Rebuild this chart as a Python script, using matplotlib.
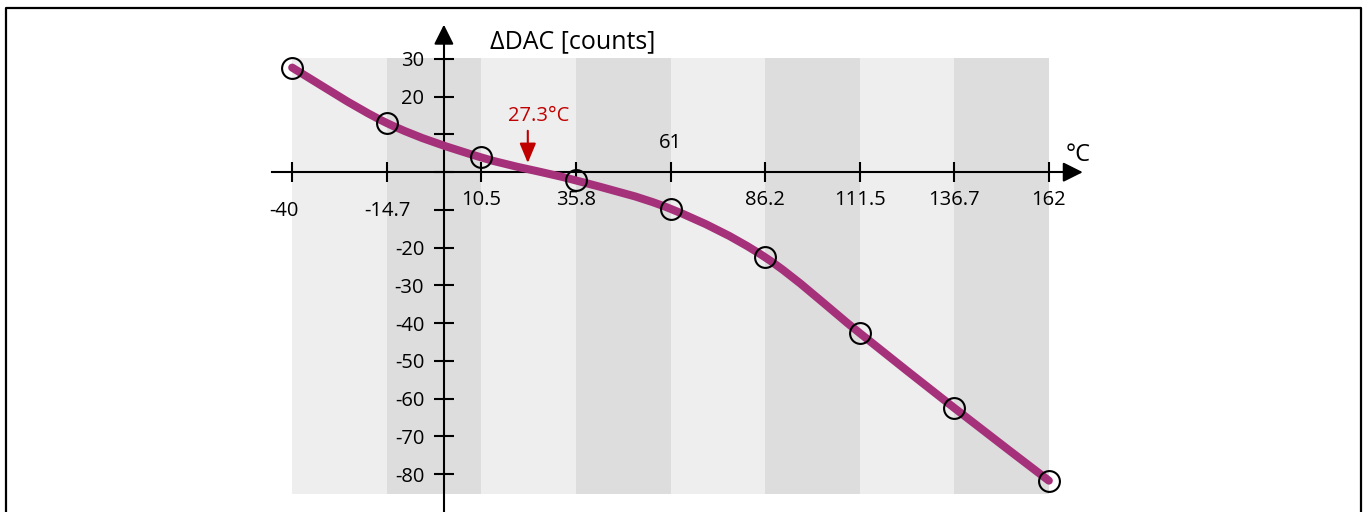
import matplotlib
matplotlib.use('Agg')
import matplotlib.pyplot as plt
from matplotlib.path import Path
from matplotlib.patches import PathPatch
from matplotlib.lines import Line2D

# 字體
plt.rcParams['font.family'] = ['Open Sans', 'DejaVu Sans']

# 資料
temps = [-40, -14.7, 10.5, 35.8, 61, 86.2, 111.5, 136.7, 162]
dac = [27.7, 13.0, 3.9, -2.2, -9.7, -22.5, -42.6, -62.4, -81.7]
x_labels = ['-40', '-14.7', '10.5', '35.8', '61', '86.2', '111.5', '136.7', '162']
y_ticks = [30, 20, 10, 0, -10, -20, -30, -40, -50, -60, -70, -80]
y_labels = ['30', '20', '', '', '', '-20', '-30', '-40', '-50', '-60', '-70', '-80']
zero_temp = '27.3°C'

line_color = '#a6317b'
red = '#c00000'
light = '#eeeeee'
dark = '#dddddd'
fs = 14.5

fig = plt.figure(figsize=(13.68, 5.12), dpi=100)
ax = fig.add_axes([0, 0, 1, 1])
ax.set_xlim(-118.0, 247.2)
ax.set_ylim(-90.0, 45.6)
ax.patch.set_alpha(0)

# 背景條紋
for i in range(len(temps) - 1):
    ax.fill_between([temps[i], temps[i + 1]], -85.2, 30.3,
                    color=light if i % 2 == 0 else dark, lw=0, zorder=0)

# 座標軸
for s in ['top', 'right']:
    ax.spines[s].set_visible(False)
ax.spines['left'].set_position(('data', 0.5))
ax.spines['bottom'].set_position(('data', 0))
ax.spines['left'].set_bounds(-95, 36)
ax.spines['bottom'].set_bounds(-45.4, 168)
for s in ['left', 'bottom']:
    ax.spines[s].set_linewidth(1.5)
    ax.spines[s].set_zorder(2)

ax.set_xticks(temps)
ax.set_xticklabels([''] * len(temps))
ax.set_yticks(y_ticks)
ax.set_yticklabels(y_labels, fontsize=fs)
ax.tick_params(direction='inout', length=14.4, width=1.5, pad=7)

# 軸箭頭
ax.annotate('', xy=(0.5, 39.8), xytext=(0.5, 34),
            arrowprops=dict(arrowstyle='-|>,head_length=0.6,head_width=0.3',
                            mutation_scale=20, color='black', lw=1.5))
ax.annotate('', xy=(171.8, 0), xytext=(166, 0),
            arrowprops=dict(arrowstyle='-|>,head_length=0.6,head_width=0.3',
                            mutation_scale=20, color='black', lw=1.5))

# x 軸標籤
for t, lab in zip(temps, x_labels):
    dy = -20.2
    dx = 0
    if lab in ('-40', '-14.7'):
        dy = -28
    if lab == '-40':
        dx = -6
    if lab == '61':
        dy = 21
    ax.annotate(lab, xy=(t, 0), xytext=(dx, dy), textcoords='offset points',
                ha='center', va='center', fontsize=fs)

ax.text(12.8, 34.5, 'ΔDAC [counts]', fontsize=18, ha='left', va='center')
ax.text(166.6, 4.6, '°C', fontsize=17, ha='left', va='center')

# 平滑曲線 (Catmull-Rom -> Bezier)
pts = list(zip(temps, dac))
verts = [pts[0]]
codes = [Path.MOVETO]
for i in range(len(pts) - 1):
    p0 = pts[i - 1] if i > 0 else pts[i]
    p1 = pts[i]
    p2 = pts[i + 1]
    p3 = pts[i + 2] if i + 2 < len(pts) else pts[i + 1]
    c1 = (p1[0] + (p2[0] - p0[0]) / 6, p1[1] + (p2[1] - p0[1]) / 6)
    c2 = (p2[0] - (p3[0] - p1[0]) / 6, p2[1] - (p3[1] - p1[1]) / 6)
    verts += [c1, c2, p2]
    codes += [Path.CURVE4] * 3
ax.add_patch(PathPatch(Path(verts, codes), fill=False, edgecolor=line_color,
                       lw=5.8, capstyle='round', joinstyle='round', zorder=3))
ax.plot(temps, dac, 'o', ms=15, mfc='none', mec='black', mew=1.5, zorder=4)

# 零點標記
ax.annotate('', xy=(22.9, 1.7), xytext=(22.9, 11.7),
            arrowprops=dict(arrowstyle='-|>,head_length=0.6,head_width=0.25',
                            mutation_scale=20, color=red, lw=1.5), zorder=5)
ax.text(25.9, 14.9, zero_temp, color=red, fontsize=fs, ha='center', va='center')

# 外框
fig.add_artist(Line2D([5.5 / 1368, 5.5 / 1368, 1361 / 1368, 1361 / 1368],
                      [0, 1 - 8 / 512, 1 - 8 / 512, 0],
                      transform=fig.transFigure, color='black', lw=1.6))

fig.savefig('out.png', dpi=100)
